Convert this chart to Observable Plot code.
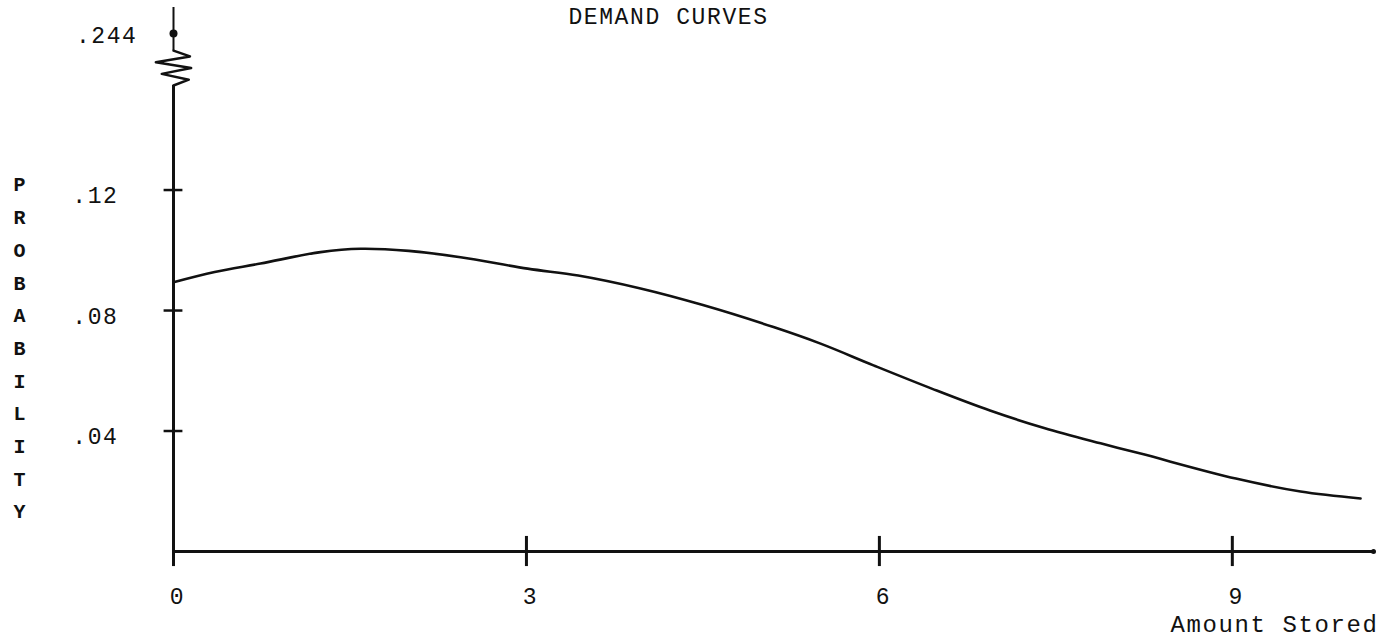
<!DOCTYPE html>
<html>
<head>
<meta charset="utf-8">
<script src="https://cdn.jsdelivr.net/npm/d3@7"></script>
<script src="https://cdn.jsdelivr.net/npm/@observablehq/plot@0.6"></script>
<style>
  html, body { margin: 0; padding: 0; background: #fff; }
  #chart svg text { letter-spacing: 1.6px; }
</style>
</head>
<body>
<div id="chart"></div>
<script>
// ---- data ----
const amountStored = [0, 0.35, 0.74, 1.25, 1.59, 2.0, 2.44, 3.01, 3.44, 3.97, 4.5, 5.10, 5.5, 5.95, 6.45, 6.94, 7.4, 7.88, 8.22, 9.03, 9.58, 10.09];
const probability  = [0.0894, 0.0928, 0.0956, 0.0994, 0.1005, 0.0998, 0.0977, 0.0939, 0.0916, 0.0873, 0.0818, 0.0745, 0.0690, 0.0618, 0.0540, 0.0468, 0.0410, 0.0359, 0.0325, 0.0242, 0.0199, 0.0176];

const xTickValues = [0, 3, 6, 9];
const xTickLabels = ["0", "3", "6", "9"];
const yTickValues = [0.04, 0.08, 0.12];
const yTickLabels = [".04", ".08", ".12"];
const breakLabel = [".244"];          // top of the broken axis
const titleText = "DEMAND CURVES";
const xTitle = "Amount Stored";
const yTitle = "PROBABILITY";

// ---- scale / layout settings ----
const X_MAX = 10.2;
const Y_TOP = 0.1806;      // end of the drawn y axis
const Y_BREAK_MARK = 0.172; // where the ".244" marker sits on the broken axis
const BREAK_HI = 0.1663, BREAK_LO = 0.1547;

const curve = amountStored.map((x, i) => ({x, y: probability[i]}));
const xTicks = xTickValues.map((v, i) => ({v, label: xTickLabels[i]}));
const yTicks = yTickValues.map((v, i) => ({v, label: yTickLabels[i]}));

// zig-zag axis break symbol
const zigOffsets = [0, 0.14, -0.15, 0.15, -0.10, 0.13, 0];
const zig = zigOffsets.map((o, i) => ({x: o, y: BREAK_HI - (BREAK_HI - BREAK_LO) * i / (zigOffsets.length - 1)}));

const font = "'Liberation Mono', 'DejaVu Sans Mono', monospace";

const chart = Plot.plot({
  width: 1394,
  height: 643,
  marginLeft: 173,
  marginRight: 21,
  marginTop: 7,
  marginBottom: 92,
  style: {fontFamily: font, fontSize: "23px", color: "#111", background: "#fff"},
  x: {domain: [0, X_MAX], axis: null},
  y: {domain: [0, Y_TOP], axis: null},
  marks: [
    // axes
    Plot.ruleY([0], {x1: 0, x2: X_MAX, stroke: "#111", strokeWidth: 3}),
    Plot.ruleX([0], {y1: 0, y2: BREAK_LO, stroke: "#111", strokeWidth: 3}),
    Plot.ruleX([0], {y1: BREAK_HI, y2: Y_TOP, stroke: "#111", strokeWidth: 2}),
    Plot.line(zig, {x: "x", y: "y", stroke: "#111", strokeWidth: 2.5, curve: "linear"}),
    Plot.dot([0], {x: 0, y: Y_BREAK_MARK, r: 4, fill: "#111"}),
    Plot.dot([0], {x: X_MAX, y: 0, r: 2.5, fill: "#111"}),
    // ticks crossing the axes
    Plot.ruleY(yTicks, {y: "v", x1: -0.08, x2: 0.08, stroke: "#111", strokeWidth: 2.5}),
    Plot.ruleX(xTicks, {x: "v", y1: -0.005, y2: 0.005, stroke: "#111", strokeWidth: 3}),
    // tick labels
    Plot.text(yTicks, {x: 0, y: "v", text: "label", textAnchor: "end", dx: -55, dy: 6, fontSize: 23}),
    Plot.text(breakLabel, {x: 0, y: Y_BREAK_MARK, text: d => d, textAnchor: "end", dx: -36, dy: 2, fontSize: 23}),
    Plot.text(xTicks, {x: "v", y: 0, text: "label", dy: 45, dx: 4, fontSize: 23}),
    // curve
    Plot.line(curve, {x: "x", y: "y", stroke: "#111", strokeWidth: 2.6, curve: "catmull-rom"}),
    // titles
    Plot.text([titleText], {frameAnchor: "top", text: d => d, dx: -105, dy: 0, lineAnchor: "top", fontSize: 23}),
    Plot.text([xTitle], {frameAnchor: "bottom-right", text: d => d, textAnchor: "end", dx: 5, dy: 80, fontSize: 24}),
    Plot.text([yTitle.split("").join("\n")], {frameAnchor: "left", text: d => d, dx: -160, dy: 65, lineHeight: 1.635, fontSize: 20, fontWeight: "bold"})
  ]
});
document.getElementById("chart").appendChild(chart);
</script>
</body>
</html>
